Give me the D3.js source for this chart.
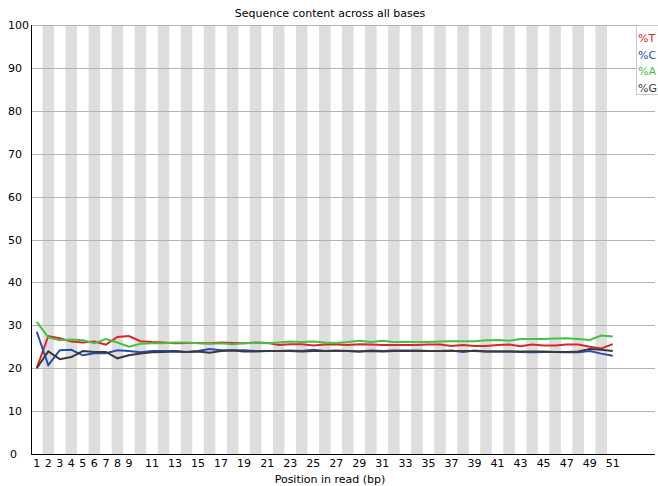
<!DOCTYPE html>
<html>
<head>
<meta charset="utf-8">
<script src="https://cdn.jsdelivr.net/npm/d3@7"></script>
<style>
  body { margin: 0; background: #fff; }
  text { font-family: "DejaVu Sans", sans-serif; }
</style>
</head>
<body>
<script>
// per-base percentages, positions 1..51
const positions = d3.range(1, 52);
const pctT = [20.0, 27.5, 27.0, 26.2, 26.0, 26.2, 25.5, 27.3, 27.5, 26.3,
  26.1, 26.0, 25.8, 25.9, 25.9, 25.8, 26.0, 25.9, 25.8, 26.0,
  25.9, 25.4, 25.6, 25.6, 25.3, 25.5, 25.5, 25.4, 25.6, 25.5,
  25.4, 25.4, 25.4, 25.4, 25.5, 25.5, 25.2, 25.4, 25.2, 25.2,
  25.4, 25.5, 25.1, 25.5, 25.3, 25.3, 25.5, 25.5, 25.0, 24.6, 25.6];
const pctC = [28.5, 20.7, 24.2, 24.3, 23.0, 23.5, 23.5, 24.2, 24.0, 23.7,
  24.0, 24.0, 24.0, 23.8, 24.0, 24.5, 24.2, 24.2, 24.2, 24.0,
  24.0, 24.0, 24.1, 24.0, 24.3, 24.0, 24.0, 24.0, 23.9, 24.1,
  24.0, 24.1, 24.1, 24.1, 24.0, 24.0, 24.1, 23.8, 24.1, 23.9,
  23.9, 23.9, 23.8, 23.7, 23.8, 23.8, 23.7, 23.7, 24.0, 23.4, 22.9];
const pctA = [30.8, 27.2, 26.5, 26.7, 26.5, 25.8, 26.8, 26.0, 25.0, 25.7,
  25.8, 25.8, 26.0, 26.0, 25.8, 25.7, 25.8, 25.6, 25.8, 25.9,
  25.8, 26.0, 26.2, 26.1, 26.2, 26.0, 25.9, 26.1, 26.4, 26.1,
  26.4, 26.1, 26.1, 26.1, 26.1, 26.2, 26.3, 26.3, 26.3, 26.5,
  26.6, 26.4, 26.8, 26.8, 26.8, 26.9, 27.0, 26.8, 26.6, 27.6, 27.4];
const pctG = [20.0, 23.9, 22.1, 22.6, 24.0, 23.8, 23.8, 22.3, 23.0, 23.4,
  23.7, 23.8, 23.9, 23.8, 23.9, 23.6, 24.0, 24.1, 23.9, 23.9,
  24.0, 24.0, 24.0, 23.9, 24.0, 24.0, 24.1, 24.0, 23.9, 24.0,
  23.9, 24.0, 24.0, 24.0, 24.0, 24.0, 24.0, 24.0, 24.0, 23.9,
  23.9, 23.9, 23.9, 23.9, 23.9, 23.8, 23.8, 23.9, 24.5, 24.3, 24.0];

const seriesNames = ["%T", "%C", "%A", "%G"];
const seriesColors = ["#dc2626", "#2a4bb3", "#46c046", "#3a3a3a"];
const yTicks = d3.range(0, 101, 10);
const xTickLabels = [1, 2, 3, 4, 5, 6, 7, 8, 9, 11, 13, 15, 17, 19, 21, 23, 25, 27, 29,
  31, 33, 35, 37, 39, 41, 43, 45, 47, 49, 51];

const w = 658, h = 486;
const plotLeft = 31, plotTop = 25, plotBottom = 454, plotRight = 655;
const band = 11.52;

const svg = d3.select("body").append("svg")
  .attr("width", w)
  .attr("height", h);

const x = d3.scaleLinear()
  .domain([0.5, 51.5])
  .range([plotLeft, plotLeft + 51 * band]);
const y = d3.scaleLinear()
  .domain([0, 100])
  .range([plotBottom, plotTop]);

// alternating stripes on even positions
svg.append("g")
  .selectAll("rect")
  .data(positions.filter(p => p % 2 === 0))
  .enter()
  .append("rect")
  .attr("x", p => x(p - 0.5))
  .attr("width", p => x(p + 0.5) - x(p - 0.5))
  .attr("y", plotTop)
  .attr("height", plotBottom - plotTop)
  .attr("fill", "#dedede");

// horizontal gridlines
svg.append("g")
  .selectAll("line")
  .data(yTicks.filter(t => t > 0))
  .enter()
  .append("line")
  .attr("x1", plotLeft)
  .attr("x2", plotRight)
  .attr("y1", d => Math.round(y(d)) + 0.5)
  .attr("y2", d => Math.round(y(d)) + 0.5)
  .attr("stroke", "#b4b4b4")
  .attr("stroke-width", 1);

// y labels
svg.append("g")
  .selectAll("text")
  .data(yTicks)
  .enter()
  .append("text")
  .attr("x", d => d === 0 ? 10 : 8)
  .attr("y", d => y(d) + 4)
  .attr("font-size", 11)
  .attr("fill", "#000")
  .text(d => d);

// x labels
svg.append("g")
  .selectAll("text")
  .data(xTickLabels)
  .enter()
  .append("text")
  .attr("x", d => x(d))
  .attr("y", 467)
  .attr("text-anchor", "middle")
  .attr("font-size", 11)
  .text(d => d);

// axes lines
svg.append("line")
  .attr("x1", plotLeft + 0.5).attr("x2", plotLeft + 0.5)
  .attr("y1", plotTop).attr("y2", plotBottom)
  .attr("stroke", "#000");
svg.append("line")
  .attr("x1", plotLeft).attr("x2", plotRight)
  .attr("y1", plotBottom + 0.5).attr("y2", plotBottom + 0.5)
  .attr("stroke", "#000");

// series lines
const allSeries = [pctT, pctC, pctA, pctG];
const line = d3.line()
  .x((d, i) => x(positions[i]))
  .y(d => y(d));

svg.append("g")
  .selectAll("path")
  .data(allSeries)
  .enter()
  .append("path")
  .attr("d", d => line(d))
  .attr("fill", "none")
  .attr("stroke", (d, i) => seriesColors[i])
  .attr("stroke-width", 2);

// title and x label
svg.append("text")
  .attr("x", 330)
  .attr("y", 17)
  .attr("text-anchor", "middle")
  .attr("font-size", 11)
  .text("Sequence content across all bases");

svg.append("text")
  .attr("x", 330)
  .attr("y", 483)
  .attr("text-anchor", "middle")
  .attr("font-size", 11)
  .text("Position in read (bp)");

// legend
const legend = svg.append("g");
legend.append("rect")
  .attr("x", 636.5)
  .attr("y", 25.5)
  .attr("width", 30)
  .attr("height", 69)
  .attr("fill", "#fff")
  .attr("stroke", "#c8c8c8");
legend.selectAll("text")
  .data(seriesNames)
  .enter()
  .append("text")
  .attr("x", 638)
  .attr("y", (d, i) => 42 + i * 16.5)
  .attr("font-size", 11)
  .attr("fill", (d, i) => seriesColors[i])
  .text(d => d);
</script>
</body>
</html>
